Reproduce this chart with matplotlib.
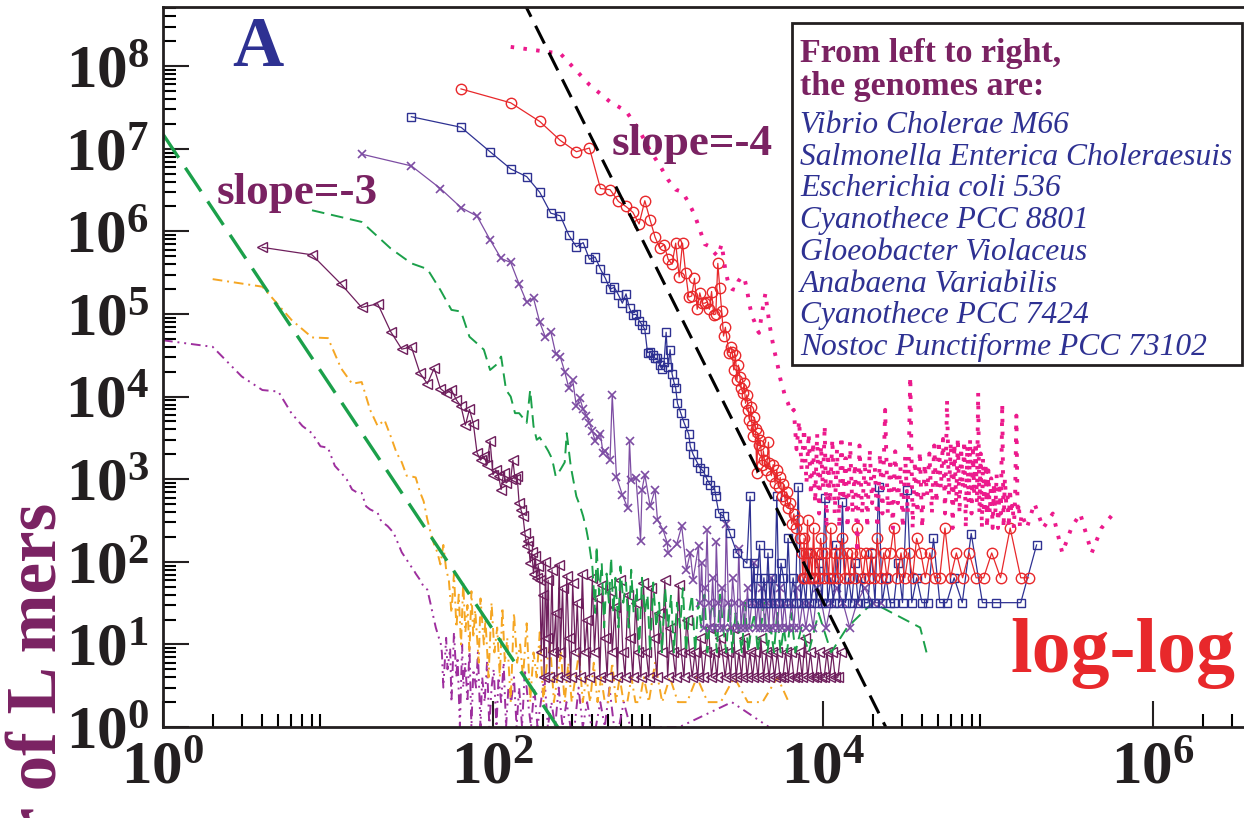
import matplotlib
matplotlib.use('Agg')
import numpy as np
import matplotlib.pyplot as plt
from matplotlib.ticker import FixedLocator, FuncFormatter, NullFormatter
from matplotlib.patches import Rectangle

plt.rcParams['font.family'] = ['Liberation Serif', 'DejaVu Serif']
plt.rcParams['mathtext.fontset'] = 'custom'
plt.rcParams['mathtext.rm'] = 'Liberation Serif'
plt.rcParams['mathtext.bf'] = 'Liberation Serif:bold'
plt.rcParams['mathtext.it'] = 'Liberation Serif:italic'

genomes = ['Vibrio Cholerae M66', 'Salmonella Enterica Choleraesuis',
           'Escherichia coli 536', 'Cyanothece PCC 8801', 'Gloeobacter Violaceus',
           'Anabaena Variabilis', 'Cyanothece PCC 7424', 'Nostoc Punctiforme PCC 73102']

# Vibrio Cholerae M66
vib_x = [
    1, 2, 3, 4, 5, 6, 7, 8, 9, 10,
    11, 12, 13, 14, 15, 16, 17, 18, 20, 21,
    23, 25, 27, 28, 30, 31, 33, 34, 36, 38,
    40, 42, 43, 45, 47, 48,
    49, 50, 52, 53, 55, 56, 58, 60, 61, 63,
    65, 66, 68, 70, 72, 74, 76, 79, 81, 84,
    86, 89, 92, 95, 98, 101, 105, 108, 112, 116,
    120, 124, 129, 134, 139, 144, 150, 156, 163, 170,
    178, 186, 195, 205, 215, 226, 238, 250, 264, 279,
    295, 312, 330, 350, 372, 395, 420, 447, 476, 508,
    542, 580, 620, 680, 1350, 2800, 4700]
vib_y = [
    48000, 40000, 17500, 12000, 11500, 6300, 4400, 3600, 2500, 2400,
    1450, 1200, 990, 750, 690, 680, 470, 430, 390, 310,
    270, 224, 155, 130, 106, 95, 80, 72, 61, 50,
    46, 30, 24, 16, 12, 11,
    8, 3, 12, 5, 9, 2, 14, 4, 7, 1,
    10, 3, 6, 2, 9, 1, 5, 3, 8, 1,
    4, 2, 6, 1, 3, 5, 1, 4, 2, 6,
    1, 3, 2, 4, 1, 3, 1, 5, 2, 1,
    3, 1, 2, 4, 1, 2, 1, 3, 1, 2,
    1, 1, 3, 1, 2, 1, 1, 2, 1, 3,
    1, 1, 2, 1, 1, 2, 1]

# Salmonella Enterica Choleraesuis
org_x = [
    2, 4, 6, 8, 10, 12, 14, 16, 18, 20,
    22, 24, 26, 28, 30, 32, 34, 36, 38, 40,
    42, 44, 46, 48, 50, 52,
    54, 56, 58, 60, 62, 64, 66, 68, 70, 72,
    74, 76, 78, 82, 84, 88, 90, 94, 98, 102,
    106, 110, 114, 118, 122, 128, 134, 140, 146, 152,
    160, 168, 176, 184, 192, 202, 212, 222, 234, 246,
    258, 272, 286, 300, 316, 332, 350, 368, 388, 408,
    430, 452, 476, 500, 528, 556, 586, 618, 652, 690,
    730, 772, 820, 880, 960, 1060, 1180, 1320, 1500, 1720,
    2000, 2400, 2900, 3500, 4300, 5300, 6200]
org_y = [
    264000, 214000, 85000, 52000, 51000, 22000, 14300, 15000, 6900, 4400,
    5200, 3300, 2100, 1600, 1100, 1080, 1050, 710, 540, 325,
    220, 162, 130, 93, 160, 81,
    60, 24, 72, 16, 40, 10, 56, 14, 30, 8,
    44, 12, 26, 6, 36, 10, 20, 4, 32, 8,
    16, 4, 28, 6, 12, 2, 24, 6, 10, 4,
    18, 2, 8, 4, 14, 2, 6, 10, 2, 4,
    8, 2, 6, 2, 4, 8, 2, 4, 2, 6,
    2, 4, 2, 2, 6, 2, 4, 2, 2, 4,
    2, 2, 4, 2, 6, 2, 4, 2, 2, 4,
    2, 2, 4, 2, 2, 4, 2]

# Escherichia coli 536
eco_x = [
    4, 8, 12, 16, 20, 24, 28, 32, 36, 40,
    44, 48, 52, 56, 60, 64, 68, 72, 76, 80,
    84, 88, 92, 96, 100, 104, 108, 112, 116, 120,
    128, 132, 136, 140, 144, 148, 152, 156, 160, 164,
    168, 172, 176, 180, 184, 188, 192,
    196, 200, 204, 208, 212, 216, 220, 228, 232, 240,
    244, 252, 256, 264, 272, 280, 288, 296, 304, 316,
    324, 336, 348, 360, 372, 384, 400, 412, 428, 444,
    460, 476, 492, 512, 528, 548, 568, 588, 612, 632,
    656, 680, 704, 732, 760, 788, 816, 848, 880, 912,
    948, 984, 1020, 1060, 1100, 1144, 1188, 1232, 1280, 1332,
    1384, 1436, 1492, 1552, 1612, 1676, 1740, 1808, 1880, 1952,
    2028, 2108, 2192, 2276, 2364, 2456, 2552, 2652, 2756, 2864,
    2976, 3092, 3212, 3336, 3468, 3604, 3744, 3888, 4040, 4200,
    4364, 4536, 4712, 4896, 5088, 5288, 5496, 5712, 5936, 6168,
    6412, 6664, 6924, 7196, 7480, 7772, 8076, 8392, 8720, 9060,
    9416, 9784, 10168, 10564, 10976, 11404, 11848, 12312, 12792]
eco_y = [
    640000, 520000, 230000, 120000, 133000, 61000, 37500, 40000, 19500, 14300,
    22000, 12500, 11000, 12000, 9100, 7600, 4500, 7000, 4700, 2100,
    1700, 1900, 1500, 2900, 1130, 1300, 1100, 750, 1200, 900,
    1000, 1700, 1000, 1100, 510, 420, 355, 224, 155, 180,
    98, 130, 72, 117, 64, 90, 61,
    8, 40, 4, 100, 12, 60, 4, 80, 8, 24,
    4, 92, 8, 48, 4, 68, 12, 4, 56, 8,
    32, 4, 72, 8, 20, 4, 64, 8, 36, 4,
    52, 12, 4, 44, 8, 28, 4, 60, 8, 4,
    40, 12, 4, 32, 8, 4, 56, 8, 4, 48,
    12, 4, 24, 8, 60, 4, 16, 8, 4, 52,
    8, 4, 20, 8, 4, 8, 4, 12, 4, 8,
    16, 4, 8, 4, 12, 8, 4, 8, 4, 16,
    4, 8, 4, 12, 4, 8, 4, 8, 4, 12,
    4, 8, 4, 8, 4, 8, 4, 4, 8, 4,
    8, 4, 4, 8, 4, 12, 4, 8, 4, 4,
    8, 4, 4, 8, 4, 8, 4, 4, 8]

# Cyanothece PCC 8801
cy8_x = [
    8, 16, 24, 32, 40, 48, 56, 64, 72, 80,
    88, 96, 104, 112, 120, 128, 136, 144, 152, 160,
    168, 176, 184, 192, 200, 208, 216, 224, 232, 240,
    256, 272, 280, 296, 320, 336, 352, 368, 384,
    400, 416, 424, 440, 456, 472, 488, 504, 520, 536,
    552, 576, 592, 616, 640, 664, 688, 712, 744, 768,
    800, 832, 864, 896, 936, 976, 1016, 1056, 1104, 1152,
    1200, 1248, 1304, 1360, 1416, 1480, 1544, 1608, 1680, 1752,
    1832, 1912, 1992, 2080, 2176, 2272, 2376, 2480, 2592, 2704,
    2824, 2952, 3080, 3224, 3368, 3520, 3680, 3848, 4024, 4208,
    4400, 4600, 4816, 5040, 5280, 5528, 5784, 6056, 6400, 6800,
    7400, 8200, 9400, 11200, 14000, 20000, 38800, 42400]
cy8_y = [
    1.8e6, 1.3e6, 6.2e5, 4.1e5, 3.5e5, 1.95e5, 1.12e5, 1.07e5, 5.3e4, 4.4e4,
    3.7e4, 2.1e4, 2.4e4, 3.05e4, 1.2e4, 1.0e4, 6.3e3, 6.3e3, 5.5e3, 4.8e3,
    1.2e4, 4.4e3, 3.0e3, 3.2e3, 2.8e3, 2.5e3, 2.2e3, 1.9e3, 1.5e3, 1.08e3,
    1.3e3, 1.6e3, 3.6e3, 1.43e3, 620, 480, 355, 245, 155,
    88, 24, 155, 40, 96, 16, 72, 32, 112, 24,
    64, 16, 88, 32, 56, 16, 80, 24, 48, 8,
    64, 24, 40, 8, 56, 16, 32, 8, 48, 16,
    40, 8, 32, 16, 48, 8, 24, 40, 8, 32,
    16, 40, 8, 24, 32, 8, 40, 16, 8, 32,
    8, 24, 16, 8, 32, 8, 16, 24, 8, 16,
    32, 8, 16, 8, 24, 8, 16, 8, 24, 8,
    16, 8, 24, 8, 16, 32, 16, 8]

# Gloeobacter Violaceus
glo_x = [
    16, 32, 48, 64, 80, 96, 112, 128, 144, 160,
    176, 192, 208, 224, 240, 256, 272, 288, 304, 320,
    336, 352, 368, 384, 400, 416, 432, 448, 464, 480,
    512, 528, 560, 608, 656, 672, 688, 736, 784, 800,
    832, 896, 960, 992, 1072, 1136, 1152, 1296, 1392, 1488,
    1568, 1632, 1760,
    1792, 1840, 1888, 1936, 1984, 2032, 2080, 2144, 2208, 2256,
    2320, 2384, 2448, 2528, 2592, 2672, 2752, 2832, 2912, 3008,
    3088, 3184, 3280, 3376, 3488, 3584, 3696, 3808, 3920, 4048,
    4160, 4288, 4432, 4560, 4704, 4848, 5008, 5152, 5312, 5488,
    5664, 5840, 6032, 6224, 6432, 6656, 6912, 7200, 7520, 7872,
    8272, 8720, 9232, 9808, 10448, 11200, 12112, 13200, 14512, 16064,
    17888, 20000, 22400]
glo_y = [
    8.6e6, 6.2e6, 3.3e6, 1.94e6, 1.53e6, 7.9e5, 4.7e5, 4.2e5, 2.3e5, 1.39e5,
    1.55e5, 7.95e4, 5.2e4, 6.1e4, 3.3e4, 3.0e4, 2.0e4, 1.27e4, 1.6e4, 7.6e3,
    9.5e3, 7.0e3, 5.9e3, 4.8e3, 3.8e3, 2.9e3, 3.2e3, 3.5e3, 2.1e3, 2.2e3,
    1.7e3, 1.05e4, 1.07e3, 645, 445, 2.9e3, 990, 1.03e3, 177, 750,
    1.13e3, 470, 750, 325, 245, 170, 128, 162, 270, 80,
    128, 61, 155,
    32, 96, 16, 48, 240, 32, 16, 64, 16, 176,
    32, 16, 48, 16, 288, 32, 16, 64, 32, 16,
    144, 16, 32, 16, 48, 16, 32, 96, 16, 32,
    16, 48, 16, 32, 16, 64, 16, 32, 16, 48,
    16, 32, 16, 16, 32, 16, 48, 16, 32, 16,
    32, 16, 48, 32, 16, 32, 48, 32, 16, 32,
    48, 32, 32]

# Anabaena Variabilis
ana_x = [
    32, 64, 96, 128, 160, 192, 224, 256, 288, 320,
    352, 384, 416, 448, 480, 512, 544, 576, 608, 640,
    672, 704, 736, 768, 800, 832, 864, 896, 928, 960,
    992, 1024, 1056, 1088, 1120, 1152, 1184, 1216, 1248, 1280,
    1312, 1376, 1440, 1536, 1568, 1632, 1728, 1792, 1888, 1984,
    2080, 2208, 2240, 2336, 2496, 2720, 3008, 3456, 3616,
    3712, 3808, 3904, 4000, 4128, 4256, 4384, 4512, 4640, 4768,
    4928, 5088, 5248, 5408, 5568, 5760, 5952, 6144, 6368, 6592,
    6816, 7072, 7328, 7584, 7872, 8160, 8480, 8800, 9152, 9504,
    9888, 10272, 10688, 11136, 11584, 12064, 12576, 13120, 13696, 14304,
    14944, 15616, 16320, 17088, 17888, 18752, 19680, 20672, 21728, 22848,
    24096, 25440, 26912, 28544, 30336, 32288, 34528, 36992, 39808, 43008,
    46720, 51040, 56192, 62336, 69824, 79104, 92512, 112000, 157952, 197024]
ana_y = [
    2.44e7, 1.82e7, 9.2e6, 5.7e6, 4.6e6, 2.97e6, 1.66e6, 1.54e6, 9.0e5, 6.5e5,
    7.3e5, 4.6e5, 4.9e5, 3.5e5, 2.7e5, 2.0e5, 2.1e5, 1.7e5, 1.35e5, 1.75e5,
    1.17e5, 9.8e4, 9.9e4, 8.3e4, 7.4e4, 6.5e4, 3.4e4, 3.5e4, 3.2e4, 2.9e4,
    2.9e4, 2.4e4, 2.15e4, 2.6e4, 6.0e4, 2.3e4, 3.7e4, 1.9e4, 1.5e4, 1.27e4,
    8.3e3, 6.3e3, 4.8e3, 3.5e3, 2.5e3, 2.0e3, 1.6e3, 1.38e3, 1.24e3, 990,
    850, 750, 620, 390, 355, 224, 128, 96, 620,
    32, 96, 32, 64, 160, 32, 64, 32, 128, 32,
    64, 32, 620, 32, 96, 64, 32, 192, 32, 64,
    32, 810, 32, 64, 32, 128, 32, 64, 32, 96,
    32, 600, 32, 64, 32, 160, 32, 530, 32, 64,
    32, 96, 32, 64, 32, 32, 128, 32, 810, 32,
    64, 32, 32, 96, 32, 750, 32, 64, 32, 32,
    192, 32, 32, 64, 32, 220, 32, 32, 32, 160]

# Cyanothece PCC 7424
cy7_x = [
    64, 128, 192, 256, 320, 384, 448, 512, 576, 640,
    704, 768, 832, 896, 960, 1024, 1088, 1152, 1216, 1280,
    1344, 1408, 1472, 1536, 1600, 1664, 1728, 1792, 1856, 1920,
    1984, 2048, 2112, 2176, 2240, 2304, 2368, 2432, 2496, 2560,
    2688, 2752, 2816, 2880, 2944, 3008, 3072, 3136, 3200, 3264,
    3328, 3392, 3456, 3520, 3584, 3648, 3712, 3776, 3840, 3904,
    3968, 4032, 4096, 4160, 4288, 4352, 4416, 4544, 4672, 4736,
    4864, 4992, 5120, 5248, 5376, 5504, 5632, 5760, 5888, 6016,
    6144, 6272, 6464, 6656, 6848, 7040, 7232,
    7424, 7552, 7680, 7808, 7936, 8064, 8192, 8384, 8576, 8768,
    8960, 9152, 9408, 9664, 9920, 10176, 10496, 10816, 11136, 11456,
    11840, 12224, 12608, 13056, 13504, 13952, 14464, 14976, 15552, 16128,
    16768, 17408, 18112, 18880, 19648, 20480, 21376, 22336, 23360, 24448,
    25600, 26880, 28224, 29696, 31296, 33024, 34880, 36928, 39168, 41664,
    44416, 47488, 50944, 54848, 59264, 64320, 70144, 76864, 84736, 94080,
    105344, 119104, 136256, 157952, 176000]
cy7_y = [
    5.3e7, 3.6e7, 2.14e7, 1.26e7, 9.2e6, 1.02e7, 3.3e6, 3.2e6, 2.3e6, 2.0e6,
    1.7e6, 1.23e6, 2.35e6, 1.37e6, 8.5e5, 6.3e5, 6.9e5, 4.6e5, 4.0e5, 7.2e5,
    2.8e5, 7.2e5, 3.1e5, 1.6e5, 1.65e5, 2.7e5, 1.14e5, 1.8e5, 1.35e5, 1.35e5,
    1.4e5, 1.14e5, 1.87e5, 9.8e4, 1.0e5, 4.1e5, 2.05e5, 1.09e5, 5.4e4, 6.9e4,
    3.4e4, 4.0e4, 3.5e4, 2.1e4, 3.2e4, 1.58e4, 2.4e4, 1.74e4, 1.26e4, 1.1e4,
    1.45e4, 8.3e3, 1.05e4, 6.9e3, 5.2e3, 7.4e3, 4.5e3, 3.3e3, 5.6e3, 4.0e3,
    1.19e3, 3.6e3, 2.6e3, 3.0e3, 1.5e3, 2.2e3, 1.7e3, 1.3e3, 2.8e3, 1.58e3,
    1.1e3, 1.5e3, 900, 1.3e3, 810, 1.05e3, 620, 870, 565, 700,
    450, 520, 290, 380, 256, 320, 192,
    128, 64, 192, 64, 128, 320, 64, 128, 64, 256,
    64, 128, 64, 192, 128, 64, 128, 64, 256, 64,
    128, 64, 128, 192, 64, 128, 64, 128, 64, 256,
    128, 64, 128, 64, 128, 64, 192, 64, 128, 64,
    128, 256, 64, 128, 64, 128, 64, 192, 128, 64,
    128, 64, 64, 256, 64, 128, 64, 128, 64, 64,
    128, 64, 256, 64, 64]

# Nostoc Punctiforme PCC 73102
nos_x = [
    128, 256, 384, 512, 640, 768, 896, 1024, 1152, 1280,
    1408, 1536, 1664, 1792, 1920, 2048, 2176, 2304, 2432, 2560,
    2688, 2816, 2944, 3072, 3200, 3328, 3456, 3584, 3712, 3840,
    3968, 4096, 4224, 4352, 4480, 4608, 4736, 4864, 4992, 5120,
    5248, 5376, 5504, 5632, 5760, 5888, 6016, 6144, 6272, 6400,
    6656, 6912, 7168, 7424, 7680, 7936, 8192, 8448, 8704, 8960,
    9216, 9472, 9728, 9984, 10240, 10496, 10752, 11008, 11392, 11776,
    12160, 12544, 12928, 13312, 13696, 14080, 14592, 15104, 15616, 16128,
    16640, 17280, 17920, 18560, 19200, 19840, 20608, 21376, 22144, 22912,
    23808, 24704, 25600, 26496, 27392, 28416, 29440, 30464, 31488, 32640,
    33792, 34944, 36096, 37376, 38656, 39936, 41344, 42752, 44160, 45696,
    47232, 48768, 50304, 51840, 53376, 54912, 56448, 57984, 59520, 61056,
    62592, 64128, 65664, 67200, 68736, 70272, 71808, 73344, 74880, 76416,
    77952, 79488, 81024, 82560, 84096, 85632, 87168, 88704, 90240, 91776,
    93312, 95104, 96896, 98688, 100480, 102528, 104576, 106624, 108672, 110720,
    112768, 115072, 117376, 119680, 121984, 124288, 126592, 128896, 131200, 133504,
    135808, 138368, 140928, 143488, 146048, 148608, 151168, 153728, 156288, 160000,
    172032, 190976, 216064, 247040, 281984, 320000, 362112, 424960, 487040, 575104]
nos_y = [
    1.71e8, 1.42e8, 5.96e7, 3.7e7, 2.86e7, 1.68e7, 9.5e6, 6.3e6, 4.2e6, 3.2e6,
    3.0e6, 2.2e6, 1.6e6, 1.05e6, 7.0e5, 6.6e5, 5.6e5, 5.0e5, 7.0e5, 3.4e5,
    2.2e5, 2.0e5, 1.95e5, 2.5e5, 2.8e5, 2.8e5, 2.0e5, 1.3e5, 9.5e4, 8.1e4,
    6.5e4, 5.9e4, 9.0e4, 1.3e5, 1.78e5, 1.12e5, 7.6e4, 5.5e4, 4.2e4, 3.3e4,
    2.7e4, 2.1e4, 1.66e4, 1.4e4, 1.2e4, 1.0e4, 9.0e3, 8.3e3, 7.0e3, 6.4e3,
    6912, 2304, 5120, 1280, 4096, 896, 3584, 640, 2816, 512,
    3584, 384, 2560, 768, 4480, 256, 2048, 512, 3072, 384,
    2304, 256, 3328, 640, 1792, 256, 2816, 384, 1536, 128,
    2560, 384, 1664, 256, 2304, 512, 1408, 256, 2048, 384,
    6912, 384, 1792, 256, 2176, 512, 1408, 256, 1920, 384,
    17408, 256, 1664, 384, 2176, 256, 1536, 640, 2048, 384,
    2560, 512, 2944, 768, 3072, 384, 9088, 640, 2816, 256,
    2688, 512, 3200, 384, 2432, 768, 2944, 256, 2560, 512,
    3072, 384, 2176, 640, 2816, 512, 11136, 384, 2048, 256,
    1792, 384, 1536, 256, 1280, 384, 1024, 256, 896, 384,
    1152, 256, 768, 384, 8320, 256, 1024, 512, 640, 256,
    768, 384, 512, 256, 640, 5888, 384, 512, 256, 384,
    256, 512, 256, 384, 128, 256, 384, 128, 256, 384]

# reference power laws
slope4_x = [137, 24000]
slope4_y = [9.4e8, 1.0]
slope3_x = [1, 250]
slope3_y = [1.5e7, 0.96]

W, H = 1244, 818
def fx(px):
    return px / W
def fy(py):
    return 1 - py / H

fig = plt.figure(figsize=(W / 100, H / 100), dpi=100)
ax = fig.add_axes([fx(163), fy(727), 1155 / W, 720 / H])
ax.set_xscale('log')
ax.set_yscale('log')

ax.plot(vib_x, vib_y, color='#9E2F9E', lw=1.4, ls=(0, (5, 2.5, 1, 2.5, 1, 2.5)))
ax.plot(org_x, org_y, color='#F5A623', lw=1.4, ls=(0, (5, 2.5, 1, 2.5)))
ax.plot(eco_x, eco_y, color='#6E1E5C', lw=0.9, marker='<', ms=7, mfc='none', mew=1.0)
ax.plot(cy8_x, cy8_y, color='#1BA04A', lw=1.4, ls=(0, (6.5, 3.5)))
ax.plot(glo_x, glo_y, color='#7D4DA3', lw=0.9, marker='x', ms=6, mew=1.2)
ax.plot(ana_x, ana_y, color='#2E3192', lw=0.9, marker='s', ms=5.5, mfc='none', mew=1.0)
ax.plot(cy7_x, cy7_y, color='#E8282B', lw=0.9, marker='o', ms=7.5, mfc='none', mew=1.0)
ax.plot(nos_x, nos_y, color='#EC1A8C', lw=2.8, ls=(0, (0.9, 2.4)))

ax.plot(slope4_x, slope4_y, color='black', lw=2.2, ls=(0, (6.5, 3.3)))
ax.plot(slope3_x, slope3_y, color='#1BA04A', lw=2.4, ls=(0, (8.5, 3.6)))

ax.set_xlim(1, 1e7)
ax.set_ylim(1, 5.2e8)

ax.xaxis.set_major_locator(FixedLocator([1, 1e2, 1e4, 1e6]))
ax.xaxis.set_minor_locator(FixedLocator([m * d for d in (1, 1e2, 1e4, 1e6) for m in range(2, 10)]))
ax.yaxis.set_major_locator(FixedLocator([10.0 ** k for k in range(9)]))
ax.yaxis.set_minor_locator(FixedLocator([m * 10.0 ** k for k in range(9) for m in range(2, 10)]))
fmt = FuncFormatter(lambda v, p: r'$\mathbf{10^{%d}}$' % int(round(np.log10(v))))
ax.xaxis.set_major_formatter(fmt)
ax.yaxis.set_major_formatter(fmt)
ax.xaxis.set_minor_formatter(NullFormatter())
ax.yaxis.set_minor_formatter(NullFormatter())

ax.tick_params(which='major', direction='in', length=19, width=1.5, labelsize=44,
               pad=10, colors='#231F20', top=False, right=False)
ax.tick_params(which='minor', direction='in', length=9.5, width=1.5,
               top=False, right=False)
for s in ax.spines.values():
    s.set_linewidth(2)
    s.set_color('#231F20')

plum = '#7A2262'
blue = '#2E3192'
fig.text(fx(232), fy(66), 'A', fontsize=51, fontweight='bold', color=blue,
         ha='left', va='baseline')
fig.text(fx(217), fy(204), 'slope=-3', fontsize=32.5, fontweight='bold', color=plum,
         ha='left', va='baseline')
fig.text(fx(612), fy(155), 'slope=-4', fontsize=32.5, fontweight='bold', color=plum,
         ha='left', va='baseline')
fig.text(fx(1010), fy(672), 'log-log', fontsize=56, fontweight='bold', color='#E8282B',
         ha='left', va='baseline')
fig.text(fx(39), fy(503), 'Number of L mers', fontsize=51, fontweight='bold', color=plum,
         rotation=90, ha='center', va='top')

# box listing the genomes
box = Rectangle((fx(792), fy(365)), (1242 - 792) / W, (365 - 23) / H,
                transform=fig.transFigure, facecolor='white', edgecolor='#231F20',
                lw=2, zorder=5)
fig.add_artist(box)
fig.text(fx(800), fy(62), 'From left to right,', fontsize=24.5, fontweight='bold',
         color=plum, ha='left', va='baseline', zorder=6)
fig.text(fx(800), fy(95), 'the genomes are:', fontsize=24.5, fontweight='bold',
         color=plum, ha='left', va='baseline', zorder=6)
for i, name in enumerate(genomes):
    fig.text(fx(800), fy(133 + i * 31.7), name, fontsize=22.7, style='italic',
             color=blue, ha='left', va='baseline', zorder=6)

fig.savefig('out.png', dpi=100)
